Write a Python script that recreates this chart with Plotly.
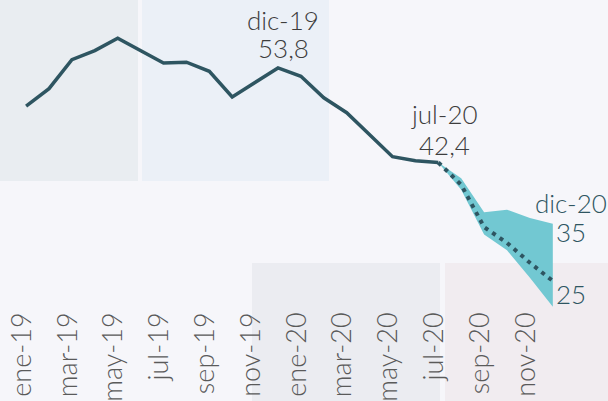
import plotly.graph_objects as go

# ── Data ──────────────────────────────────────────────────────────────────────
months = ["ene-19", "feb-19", "mar-19", "abr-19", "may-19", "jun-19",
          "jul-19", "ago-19", "sep-19", "oct-19", "nov-19", "dic-19",
          "ene-20", "feb-20", "mar-20", "abr-20", "may-20", "jun-20",
          "jul-20", "ago-20", "sep-20", "oct-20", "nov-20", "dic-20"]

observed = [49.2, 51.3, 54.8, 55.9, 57.4, 55.9,
            54.4, 54.5, 53.4, 50.3, 52.1, 53.8,
            52.8, 50.2, 48.4, 45.7, 43.1, 42.6,
            42.4]

forecast_months = months[18:]
forecast_mid = [42.4, 39.7, 34.6, 32.7, 30.3, 28.1]
forecast_high = [42.4, 40.5, 36.4, 36.7, 35.7, 35.0]
forecast_low = [42.4, 39.1, 33.7, 31.8, 28.5, 25.0]

tick_labels = months[::2]

COLORS = {
    "line": "#2e5561",
    "band": "#72c8d2",
    "text": "#3d3d3d",
    "tick": "#5a5a5a",
    "bg": "#f6f6fa",
}

FONT = "Lato, 'Open Sans', sans-serif"

idx = {m: i for i, m in enumerate(months)}
x_obs = [idx[m] for m in months[:len(observed)]]
x_fc = [idx[m] for m in forecast_months]

fig = go.Figure()

# Forecast band
fig.add_trace(go.Scatter(
    x=x_fc, y=forecast_high, mode="lines",
    line=dict(width=0, color=COLORS["band"]),
    hoverinfo="skip", showlegend=False,
))
fig.add_trace(go.Scatter(
    x=x_fc, y=forecast_low, mode="lines",
    line=dict(width=0, color=COLORS["band"]),
    fill="tonexty", fillcolor=COLORS["band"],
    hoverinfo="skip", showlegend=False,
))

# Observed series
fig.add_trace(go.Scatter(
    x=x_obs, y=observed, mode="lines",
    line=dict(color=COLORS["line"], width=3.5),
    showlegend=False,
))

# Central forecast (dotted)
fig.add_trace(go.Scatter(
    x=x_fc, y=forecast_mid, mode="lines",
    line=dict(color=COLORS["line"], width=4, dash="4px,5px"),
    showlegend=False,
))

# ── Background panels (paper coords, pixel-based) ─────────────────────────────
W, H = 608, 401
B = 91  # bottom margin
PH = H - B


def px_rect(x0, y0, x1, y1, color):
    fig.add_shape(
        type="rect", xref="paper", yref="paper", layer="below",
        x0=x0 / W, x1=x1 / W,
        y0=(PH - y1) / PH, y1=(PH - y0) / PH,
        fillcolor=color, line_width=0,
    )


px_rect(0, 0, 138, 181, "#e9edf1")
px_rect(142, 0, 329, 181, "#ebf0f7")
px_rect(252, 263, 440, 401, "#ebecf1")
px_rect(445, 263, 608, 401, "#f1ecf0")

# ── Annotations ───────────────────────────────────────────────────────────────
def note(x, y, text, color, xshift=0, yshift=0, xanchor="center"):
    fig.add_annotation(
        x=x, y=y, text=text, showarrow=False,
        xanchor=xanchor, yanchor="middle",
        xshift=xshift, yshift=yshift,
        font=dict(family=FONT, size=26, color=color, weight=300),
    )


i_dic19 = idx["dic-19"]
note(i_dic19, observed[i_dic19], "dic-19", COLORS["text"], xshift=5, yshift=48)
note(i_dic19, observed[i_dic19], "53,8", COLORS["text"], xshift=5, yshift=20)

i_jul20 = idx["jul-20"]
note(i_jul20, observed[i_jul20], "jul-20", COLORS["text"], xshift=6, yshift=48)
note(i_jul20, observed[i_jul20], "42,4", COLORS["text"], xshift=6, yshift=17)

i_dic20 = idx["dic-20"]
note(i_dic20, forecast_high[-1], "dic-20", COLORS["line"], xshift=18, yshift=21)
note(i_dic20, forecast_high[-1], "35", COLORS["line"], xshift=1, yshift=-8,
     xanchor="left")
note(i_dic20, forecast_low[-1], "25", COLORS["line"], xshift=1, yshift=13,
     xanchor="left")

fig.update_layout(
    width=W, height=H,
    margin=dict(l=0, r=0, t=0, b=B, autoexpand=False),
    paper_bgcolor=COLORS["bg"],
    plot_bgcolor="rgba(0,0,0,0)",
    showlegend=False,
    xaxis=dict(
        range=[-1.14, 25.41],
        tickmode="array",
        tickvals=[idx[m] for m in tick_labels],
        ticktext=tick_labels,
        tickangle=-90,
        automargin=False,
        ticklabelshift=-4,
        ticklabelstandoff=-4,
        tickfont=dict(family=FONT, size=27, color=COLORS["tick"], weight=300),
        showgrid=False, zeroline=False, showline=False, ticks="",
    ),
    yaxis=dict(
        range=[24.6, 62.0],
        visible=False, showgrid=False, zeroline=False,
    ),
)

# drop the browser's default body margin so the figure fills the window
fig.write_html(
    "out.html",
    config={"displayModeBar": False},
    post_script="document.body.style.margin='0';"
                "document.body.style.overflow='hidden';",
)
